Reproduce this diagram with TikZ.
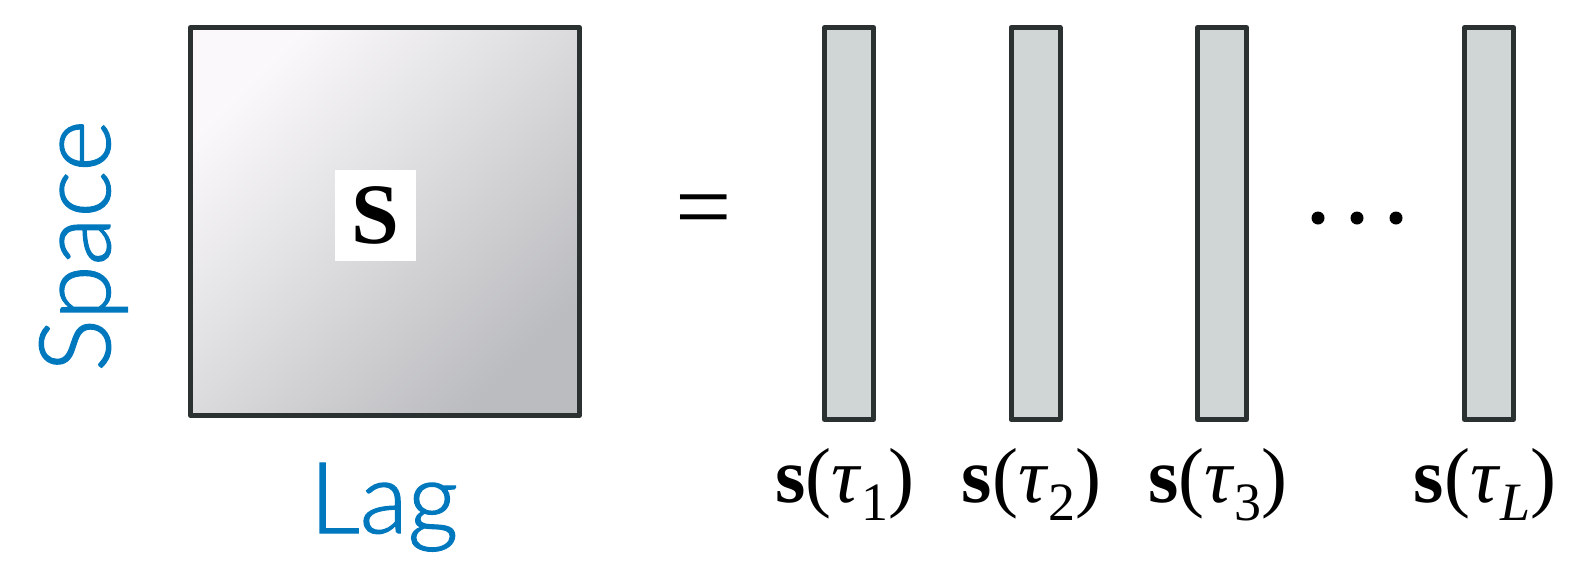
\documentclass[tikz,border=0pt]{standalone}
\usepackage{fontspec}
\setmainfont{Liberation Serif}
\newfontfamily\labfont[FakeBold=1.3]{Lato Light}
\definecolor{strokec}{HTML}{2B3030}
\definecolor{barc}{HTML}{D0D6D6}
\definecolor{bluec}{RGB}{0,120,190}
\definecolor{gradhi}{HTML}{FAF8FA}
\definecolor{gradlo}{HTML}{BBBCBF}
\begin{document}
\begin{tikzpicture}[x=1pt,y=-1pt,
  outline/.style={draw=strokec, line width=5pt, line join=round, inner sep=0pt},
  barbox/.style={outline, fill=barc, minimum width=49pt, minimum height=392pt},
  axislab/.style={text=bluec, font=\labfont\fontsize{99pt}{99pt}\selectfont, inner sep=0pt, anchor=base},
  veclab/.style={font=\fontsize{78pt}{78pt}\selectfont, inner sep=0pt, anchor=base},
  dotc/.style={circle, fill=black, minimum size=13pt, inner sep=0pt}]
\useasboundingbox (0,0) rectangle (1588,563);
% matrix
\node[outline, minimum width=389pt, minimum height=388pt, top color=gradhi, bottom color=gradlo, shading angle=45] (M) at (385,221.5) {};
\node[fill=white, minimum width=81pt, minimum height=91pt, inner sep=0pt, font=\bfseries\fontsize{86pt}{86pt}\selectfont] (S) at (375.5,215.5) {S};
\node[axislab, rotate=90] (space) at (110,246) {Space};
\node[axislab] (lag) at (384,533) {Lag};
% equals
\node[inner sep=0pt, font=\fontsize{100pt}{100pt}\selectfont] (eq) at (704,218) {=};
% bars
\node[barbox] (b1) at (849,223.5) {};
\node[barbox] (b2) at (1035.5,223.5) {};
\node[barbox] (b3) at (1222,223.5) {};
\node[barbox] (bL) at (1489,223.5) {};
% dots
\node[dotc] (d1) at (1318,218) {};
\node[dotc] (d2) at (1357,218) {};
\node[dotc] (d3) at (1396,218) {};
% labels
\newcommand{\veclabel}[1]{\textbf{s}(\textit{τ}\raisebox{-18pt}{\fontsize{54pt}{54pt}\selectfont #1})}
\node[veclab] (l1) at (845,502) {\veclabel{1}};
\node[veclab] (l2) at (1031.5,502) {\veclabel{2}};
\node[veclab] (l3) at (1218,502) {\veclabel{3}};
\node[veclab] (lL) at (1485,502) {\veclabel{\textit{L}}};
\end{tikzpicture}
\end{document}
